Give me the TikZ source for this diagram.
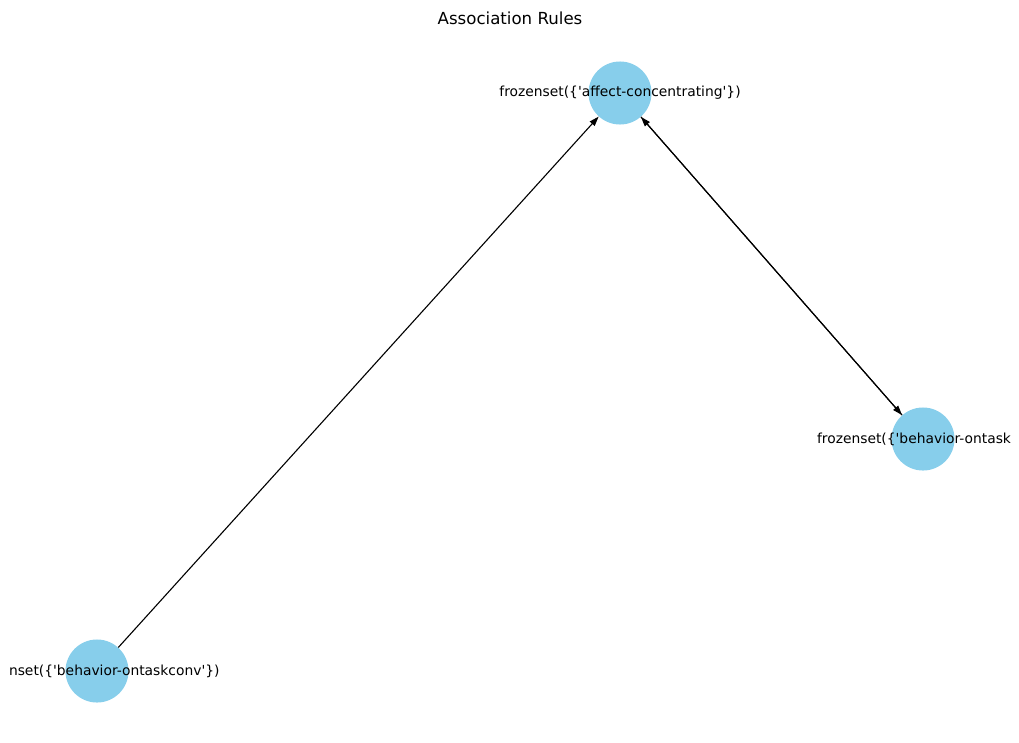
\documentclass[tikz,border=0pt]{standalone}
\usepackage{fontspec}
\setmainfont{DejaVu Sans}
\usetikzlibrary{arrows.meta}
\definecolor{skyblue}{HTML}{87CEEB}
\newcommand{\sq}{\textquotesingle}
\tikzset{
    rule/.style={circle, fill=skyblue, minimum size=0.63in, inner sep=0pt},
    rulelabel/.style={font=\fontsize{10}{12}\selectfont, inner sep=0pt},
    edge/.style={line width=0.8pt, -{Triangle[length=7pt,width=4.6pt]}}
}
\begin{document}
\begin{tikzpicture}[x=0.01in,y=-0.01in]
            \path[use as bounding box] (0,0) rectangle (1019,742);
            \clip (9.5,0) rectangle (1011,742);
            \begin{scope}
                \node[name=title, font=\fontsize{12}{14}\selectfont] at (510,18) (title) {Association Rules};
                \node[name=AC, rule] at (620,93) (AC) {};
                \node[name=BO, rule] at (923,439) (BO) {};
                \node[name=BC, rule] at (97,671) (BC) {};
                \node[name=lAC, rulelabel] at (620,93) (lAC) {frozenset(\{\sq affect-concentrating\sq\})};
                \node[name=lBO, rulelabel] at (923,439) (lBO) {frozenset(\{\sq behavior-ontask\sq\})};
                \node[name=lBC, rulelabel] at (97,671) (lBC) {frozenset(\{\sq behavior-ontaskconv\sq\})};
                \draw[edge] (BC) -- (AC);
                \draw[edge] (AC) -- (BO);
                \draw[edge] (BO) -- (AC);
            \end{scope}
        \end{tikzpicture}
\end{document}
